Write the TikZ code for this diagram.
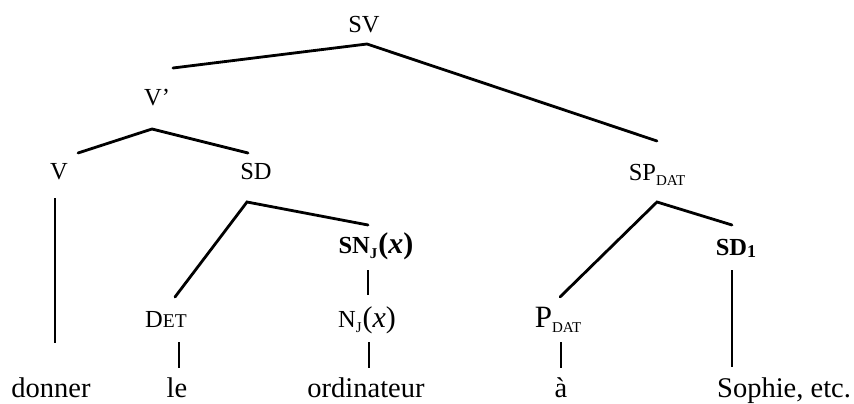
\documentclass[tikz,border=0pt]{standalone}
\usepackage{fontspec}
\setmainfont{Liberation Serif}
\newcommand\lsub[1]{\raisebox{-0.22em}{\fontsize{15}{16}\selectfont #1}}
\newcommand\bigx{{\fontsize{30}{32}\selectfont(\textit{x})}}
\tikzset{
  lab/.style={anchor=base, inner sep=0pt, font=\fontsize{24.5}{28}\selectfont},
  leaf/.style={anchor=base, inner sep=0pt, font=\fontsize{28.5}{32}\selectfont},
  branch/.style={line width=2.8pt, line cap=round, line join=miter},
  stem/.style={line width=2.2pt},
}
\begin{document}
\begin{tikzpicture}[x=1pt,y=-1pt]
\useasboundingbox (0,0) rectangle (854,404);
% labels
\node[lab] (SV) at (364,33) {SV};
\node[lab] (Vbar) at (157,105) {V’};
\node[lab] (V) at (59,179) {V};
\node[lab] (SD) at (256,179) {SD};
\node[lab] (SP) at (657,180) {SP\lsub{DAT}};
\node[lab] (SN) at (376,253) {\bfseries SN\lsub{\bfseries J}\kern1pt\bigx};
\node[lab] (SDone) at (736,255) {\bfseries SD\raisebox{-0.12em}{\fontsize{18}{20}\selectfont\bfseries 1}};
\node[lab] (DET) at (166,327) {D{\fontsize{19.5}{22}\selectfont ET}};
\node[lab] (NJ) at (367,327) {N\lsub{J}\kern1pt\bigx};
\node[lab] (P) at (558,327) {{\fontsize{31}{34}\selectfont P}\lsub{DAT}};
% leaves
\node[leaf] (donner) at (51,397) {donner};
\node[leaf] (le) at (177,397) {le};
\node[leaf] (ordi) at (366,397) {ordinateur};
\node[leaf] (a) at (561,397) {à};
\node[leaf, anchor=base west] (sophie) at (717,397) {Sophie, etc.};
% branch points
\coordinate (a0) at (367,44);
\coordinate (a0l) at (173,68);
\coordinate (a0r) at (657,141);
\coordinate (a1) at (152,129);
\coordinate (a1l) at (78,153);
\coordinate (a1r) at (248,153);
\coordinate (a2) at (247,202);
\coordinate (a2l) at (175,297);
\coordinate (a2r) at (368,225);
\coordinate (a3) at (657,202);
\coordinate (a3l) at (560,297);
\coordinate (a3r) at (732,225);
\draw[branch] (a0l) -- (a0) -- (a0r);
\draw[branch] (a1l) -- (a1) -- (a1r);
\draw[branch] (a2l) -- (a2) -- (a2r);
\draw[branch] (a3l) -- (a3) -- (a3r);
% stems
\coordinate (v1) at (55,198); \coordinate (v2) at (55,343);
\coordinate (sn1) at (368,270); \coordinate (sn2) at (368,295);
\coordinate (d1) at (179,342); \coordinate (d2) at (179,368);
\coordinate (n1) at (369,342); \coordinate (n2) at (369,368);
\coordinate (p1) at (561,342); \coordinate (p2) at (561,368);
\coordinate (s1) at (732,270); \coordinate (s2) at (732,367);
\draw[stem] (v1) -- (v2);
\draw[stem] (sn1) -- (sn2);
\draw[stem] (d1) -- (d2);
\draw[stem] (n1) -- (n2);
\draw[stem] (p1) -- (p2);
\draw[stem] (s1) -- (s2);
\end{tikzpicture}
\end{document}
